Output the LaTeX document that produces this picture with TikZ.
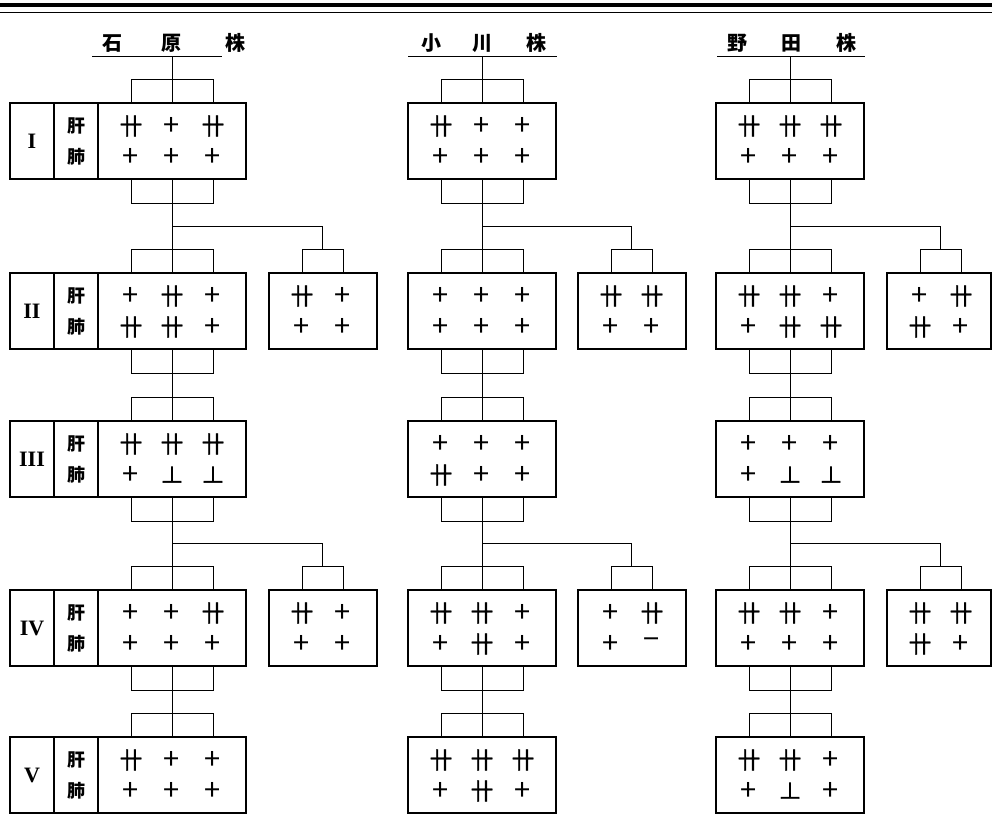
\documentclass[tikz,border=0pt]{standalone}
\usepackage{fontspec}
\newfontfamily\jp{Noto Sans CJK JP}
\newfontfamily\symfont{Noto Sans CJK JP}[FakeBold=1.6]
\newfontfamily\numfont{Liberation Serif}
\usetikzlibrary{calc}

% readings
\newcommand\pone{{\jp\fontsize{29}{29}\selectfont +}}
\newcommand\ptwo{卄}
\newcommand\pweak{⊥}
\newcommand\pneg{{\jp\fontsize{29}{29}\selectfont −}}

% box with two rows of readings: name, width, top left, upper row, lower row
\newcommand\readbox[5]{%
  \node[box, minimum width=#2pt, anchor=north west] (#1) at (#3) {};
  \foreach \s [count=\i] in {#4}
    \node[sym] (#1-a\i) at ($(#1.north west)+(-8+41*\i,23)$) {\s};
  \foreach \s [count=\i] in {#5}
    \node[sym] (#1-b\i) at ($(#1.north west)+(-8+41*\i,54)$) {\s};
}
% strain and organ cells left of a box
\newcommand\labelcells[2]{%
  \node[box, minimum width=44pt, anchor=north east] (#1o) at (#1.north west) {};
  \node[box, minimum width=44pt, anchor=north east] (#1n) at (#1o.north west) {};
  \node[num] (#1num) at (#1n) {#2};
  \node[organ] (#1liver) at (#1o.center |- #1-a1) {肝};
  \node[organ] (#1lung) at (#1o.center |- #1-b1) {肺};
}
% forks above and below a box
\newcommand\topfork[1]{%
  \draw (#1.north -| #1-a1) -- ++(0,-24) -| (#1.north -| #1-a3);
  \draw (#1.north -| #1-a2) -- ++(0,-24) coordinate (#1-in);
}
\newcommand\botfork[1]{%
  \draw (#1.south -| #1-a1) -- ++(0,24) -| (#1.south -| #1-a3);
  \draw (#1.south -| #1-a2) -- ++(0,24) coordinate (#1-out);
}
\newcommand\sidefork[1]{%
  \draw (#1.north -| #1-a1) -- ++(0,-24) -| (#1.north -| #1-a2);
  \coordinate (#1-in) at ($(#1.north -| #1-a1)!0.5!(#1.north -| #1-a2)+(0,-24)$);
}

\begin{document}
\begin{tikzpicture}[x=1pt, y=-1pt, line width=1pt,
    box/.style={draw, line width=1.1pt, minimum height=76pt, inner sep=0pt, outer sep=0pt},
    sym/.style={font=\symfont\fontsize{23}{23}\selectfont, inner sep=0pt},
    num/.style={font=\numfont\bfseries\fontsize{22}{22}\selectfont},
    organ/.style={font=\jp\bfseries\fontsize{18}{18}\selectfont},
    title/.style={font=\jp\bfseries\fontsize{20}{20}\selectfont}]
  \useasboundingbox (0,0) rectangle (992,815);

  % page rule
  \draw[line width=3.5pt] (0,5) -- (992,5);
  \draw[line width=0.8pt] (0,12) -- (992,12);

  % Ishihara strain
  \node[title] (At) at (174,43) {石\hspace{39pt}原\hspace{44pt}株};
  \draw (92,56) -- (222,56) coordinate (Aline);
  \readbox{A1}{148}{98,103}{\ptwo,\pone,\ptwo}{\pone,\pone,\pone}
  \readbox{A2}{148}{98,273}{\pone,\ptwo,\pone}{\ptwo,\ptwo,\pone}
  \readbox{A2s}{108}{269,273}{\ptwo,\pone}{\pone,\pone}
  \readbox{A3}{148}{98,421}{\ptwo,\ptwo,\ptwo}{\pone,\pweak,\pweak}
  \readbox{A4}{148}{98,590}{\pone,\pone,\ptwo}{\pone,\pone,\pone}
  \readbox{A4s}{108}{269,590}{\ptwo,\pone}{\pone,\pone}
  \readbox{A5}{148}{98,737}{\ptwo,\pone,\pone}{\pone,\pone,\pone}
  \labelcells{A1}{I}
  \labelcells{A2}{II}
  \labelcells{A3}{III}
  \labelcells{A4}{IV}
  \labelcells{A5}{V}

  % Ogawa strain
  \node[title] (Bt) at (484,43) {小\hspace{31pt}川\hspace{34pt}株};
  \draw (408,56) -- (557,56) coordinate (Bline);
  \readbox{B1}{148}{408,103}{\ptwo,\pone,\pone}{\pone,\pone,\pone}
  \readbox{B2}{148}{408,273}{\pone,\pone,\pone}{\pone,\pone,\pone}
  \readbox{B2s}{108}{578,273}{\ptwo,\ptwo}{\pone,\pone}
  \readbox{B3}{148}{408,421}{\pone,\pone,\pone}{\ptwo,\pone,\pone}
  \readbox{B4}{148}{408,590}{\ptwo,\ptwo,\pone}{\pone,\ptwo,\pone}
  \readbox{B4s}{108}{578,590}{\pone,\ptwo}{\pone,\pneg}
  \readbox{B5}{148}{408,737}{\ptwo,\ptwo,\ptwo}{\pone,\ptwo,\pone}

  % Noda strain
  \node[title] (Ct) at (792,43) {野\hspace{34pt}田\hspace{35pt}株};
  \draw (717,56) -- (865,56) coordinate (Cline);
  \readbox{C1}{148}{716,103}{\ptwo,\ptwo,\ptwo}{\pone,\pone,\pone}
  \readbox{C2}{148}{716,273}{\ptwo,\ptwo,\pone}{\pone,\ptwo,\ptwo}
  \readbox{C2s}{104}{887,273}{\pone,\ptwo}{\ptwo,\pone}
  \readbox{C3}{148}{716,421}{\pone,\pone,\pone}{\pone,\pweak,\pweak}
  \readbox{C4}{148}{716,590}{\ptwo,\ptwo,\pone}{\pone,\pone,\pone}
  \readbox{C4s}{104}{887,590}{\ptwo,\ptwo}{\ptwo,\pone}
  \readbox{C5}{148}{716,737}{\ptwo,\ptwo,\pone}{\pone,\pweak,\pone}

  % forks and lines of descent
  \foreach \c in {A,B,C} {
    \foreach \r in {1,...,5} \topfork{\c\r}
    \foreach \r in {1,...,4} \botfork{\c\r}
    \sidefork{\c2s}
    \sidefork{\c4s}
    \draw (\c1-in) -- (\c1-in |- \c line);
    \draw (\c1-out) -- (\c2-in);
    \draw (\c2-out) -- (\c3-in);
    \draw (\c3-out) -- (\c4-in);
    \draw (\c4-out) -- (\c5-in);
    \draw ($(\c1-out)!0.5!(\c2-in)$) -| (\c2s-in);
    \draw ($(\c3-out)!0.5!(\c4-in)$) -| (\c4s-in);
  }
\end{tikzpicture}
\end{document}
